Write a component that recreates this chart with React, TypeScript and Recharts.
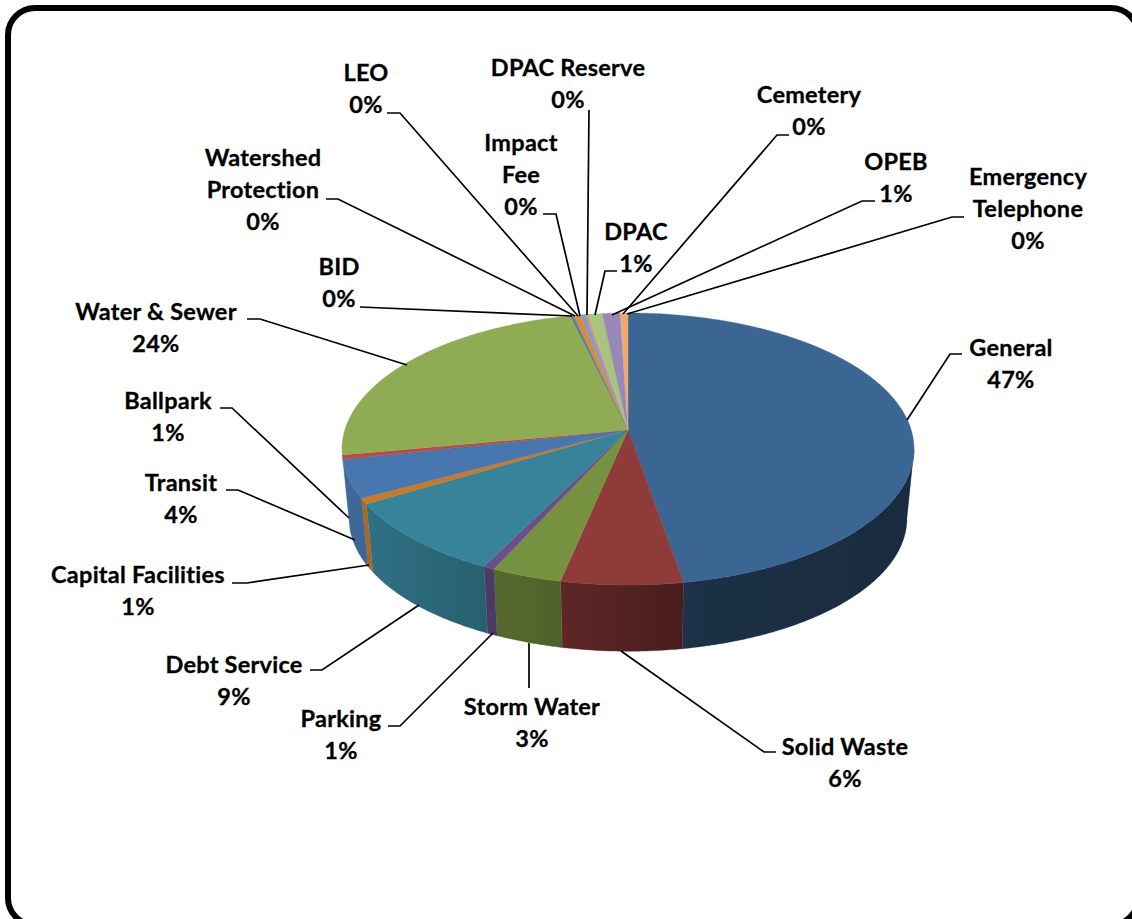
import { PieChart, Pie, Cell } from 'recharts';

const categories = [
  'General', 'Solid Waste', 'Storm Water', 'Parking', 'Debt Service', 'Capital Facilities',
  'Transit', 'Ballpark', 'Water & Sewer', 'BID', 'Watershed Protection', 'LEO', 'Impact Fee',
  'DPAC Reserve', 'DPAC', 'OPEB', 'Cemetery', 'Emergency Telephone',
];
const shares = [
  47.3, 6.0, 3.49, 0.55, 9.05, 0.7, 4.49, 0.5, 24.23, 0.12, 0.12, 0.38, 0.32, 0.15, 0.95, 1.14, 0.03, 0.48,
];
const colors = [
  '#3b6694', '#8f3b39', '#76913f', '#6b4f8a', '#37849a', '#c67a2c',
  '#4876af', '#b84a47', '#8fab54', '#6f5a94', '#47a0b5', '#e5872e',
  '#7f9dcc', '#d98a80', '#a8c47e', '#9a87b7', '#6fc0d0', '#f4a76a',
];

// Multi-line names where the label wraps
const wrappedNames: Record<string, string[]> = {
  'Watershed Protection': ['Watershed', 'Protection'],
  'Impact Fee': ['Impact', 'Fee'],
  'Emergency Telephone': ['Emergency', 'Telephone'],
};

// Label centre x, first line y, then the leader polyline from the text to the pie
const labelX = [1011, 845, 532, 341, 234, 138, 181, 168, 156, 339, 263, 366, 521, 568, 636, 896, 809, 1028];
const labelY = [347, 746, 706, 718, 664, 574, 482, 400, 311, 266, 157, 72, 142, 67, 231, 161, 94, 176];
const leaders = [
  [[962, 354], [950, 354], [907, 420]],
  [[776, 752], [764, 752], [621, 651]],
  [[529, 688], [529, 643]],
  [[388, 726], [400, 726], [493, 633]],
  [[310, 670], [322, 670], [419, 605]],
  [[232, 583], [247, 583], [369, 565]],
  [[226, 490], [238, 490], [355, 540]],
  [[220, 408], [232, 408], [349, 518]],
  [[247, 319], [260, 319], [407, 365]],
  [[360, 307], [572, 316]],
  [[326, 199], [338, 199], [575, 316]],
  [[387, 113], [400, 113], [578, 316]],
  [[543, 214], [556, 214], [580, 316]],
  [[589, 110], [587, 315]],
  [[617, 271], [605, 271], [595, 315]],
  [[875, 201], [862, 201], [612, 315]],
  [[789, 135], [777, 135], [623, 314]],
  [[964, 217], [952, 217], [627, 314]],
];

const table = categories.map((name, i) => ({ name, value: shares[i] }));

const TILT = 0.471;
const PERSPECTIVE = 0.14;
const DEPTH = 70;
const BASE_SCALE = 0.975;
const FONT = 'Lato, sans-serif';

// Tilted disc: turns a pie angle into a point on the perspective ellipse
const project = (cx: number, cy: number, r: number, deg: number, scale = 1, drop = 0) => {
  const a = (deg * Math.PI) / 180;
  const u = Math.cos(a);
  const v = -Math.sin(a);
  const w = 1 - PERSPECTIVE * v;
  return [cx + (r * scale * u) / w, cy + drop + (r * scale * TILT * v) / w];
};

const arcPoints = (cx: number, cy: number, r: number, from: number, to: number, scale = 1, drop = 0) => {
  const steps = Math.max(2, Math.ceil(Math.abs(to - from) / 0.5));
  const pts = [];
  for (let i = 0; i <= steps; i++) {
    pts.push(project(cx, cy, r, from + ((to - from) * i) / steps, scale, drop));
  }
  return pts;
};

const toPath = (pts: number[][]) => `M${pts.map((p) => `${p[0].toFixed(2)},${p[1].toFixed(2)}`).join('L')}Z`;

const TopFace = (props: any) => {
  const { cx, cy, outerRadius, startAngle, endAngle, fill } = props;
  const pts = [[cx, cy], ...arcPoints(cx, cy, outerRadius, startAngle, endAngle)];
  return <path d={toPath(pts)} fill={fill} stroke={fill} strokeWidth={0.4} />;
};

// Side wall, only for the part of a slice that faces the front.
// The right limit is where the rim is widest, so the closing edge follows the silhouette.
const SideWall = (props: any) => {
  const { cx, cy, outerRadius, startAngle, endAngle, fill } = props;
  const from = Math.min(startAngle, -8);
  const to = Math.max(endAngle, -167.6);
  if (from <= to) return <g />;
  const upper = arcPoints(cx, cy, outerRadius, from, to);
  const lower = arcPoints(cx, cy, outerRadius, to, from, BASE_SCALE, DEPTH);
  const d = toPath([...upper, ...lower]);
  return (
    <g>
      <path d={d} fill={fill} stroke={fill} strokeWidth={0.4} />
      <path d={d} fill="url(#wallShade)" />
    </g>
  );
};

const SliceLabel = (props: any) => {
  const i = props.index;
  const lines = wrappedNames[categories[i]] ?? [categories[i]];
  const rows = [...lines, `${Math.round(shares[i])}%`];
  return (
    <g>
      <polyline
        points={leaders[i].map((p) => p.join(',')).join(' ')}
        fill="none"
        stroke="#000"
        strokeWidth={1.7}
      />
      {rows.map((row, r) => (
        <text
          key={r}
          x={labelX[i]}
          y={labelY[i] + r * 32}
          textAnchor="middle"
          dominantBaseline="central"
          fontFamily={FONT}
          fontWeight={700}
          fontSize={23.5}
          letterSpacing={0.25}
          stroke="#000"
          strokeWidth={0.3}
          fill="#000"
        >
          {row}
        </text>
      ))}
    </g>
  );
};

export default function App() {
  return (
    <div style={{ position: 'absolute', left: 0, top: 0, width: 1132, height: 919, overflow: 'hidden', background: '#fff' }}>
      <div
        style={{
          position: 'absolute', left: 4.5, top: 5, width: 1124.5, height: 911,
          boxSizing: 'content-box', border: '6px solid #000', borderRadius: 30,
        }}
      />
      <div style={{ position: 'absolute', left: 0, top: 0 }}>
        <PieChart width={1132} height={919} margin={{ top: 0, right: 0, bottom: 0, left: 0 }}>
          <defs>
            <linearGradient id="wallShade" gradientUnits="userSpaceOnUse" x1={342} y1={0} x2={914} y2={0}>
              <stop offset="0" stopColor="#000" stopOpacity={0.12} />
              <stop offset="0.26" stopColor="#000" stopOpacity={0.28} />
              <stop offset="0.33" stopColor="#000" stopOpacity={0.3} />
              <stop offset="0.49" stopColor="#000" stopOpacity={0.42} />
              <stop offset="0.63" stopColor="#000" stopOpacity={0.53} />
              <stop offset="1" stopColor="#000" stopOpacity={0.58} />
            </linearGradient>
          </defs>
          <Pie
            data={table}
            dataKey="value"
            nameKey="name"
            cx={628}
            cy={430}
            outerRadius={283.2}
            startAngle={90}
            endAngle={-270}
            stroke="none"
            isAnimationActive={false}
            shape={SideWall}
          >
            {table.map((_, i) => (
              <Cell key={i} fill={colors[i]} />
            ))}
          </Pie>
          <Pie
            data={table}
            dataKey="value"
            nameKey="name"
            cx={628}
            cy={430}
            outerRadius={283.2}
            startAngle={90}
            endAngle={-270}
            stroke="none"
            isAnimationActive={false}
            shape={TopFace}
            label={SliceLabel}
            labelLine={false}
          >
            {table.map((_, i) => (
              <Cell key={i} fill={colors[i]} />
            ))}
          </Pie>
        </PieChart>
      </div>
    </div>
  );
}
